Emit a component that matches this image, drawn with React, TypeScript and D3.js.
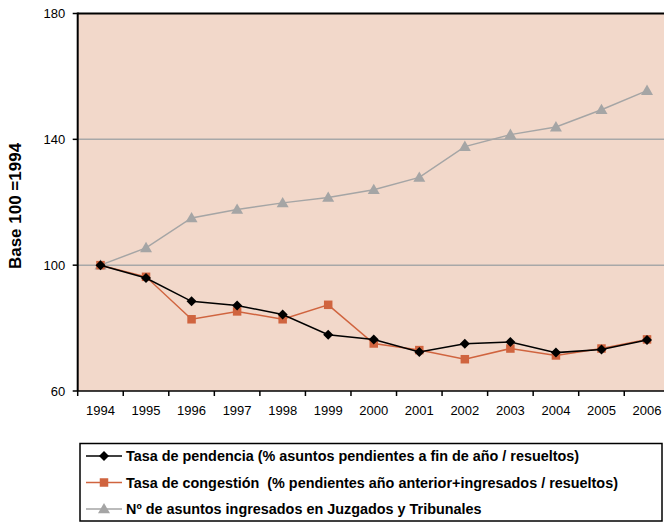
import React from "react";
import * as d3 from "d3";

const years = ["1994","1995","1996","1997","1998","1999","2000","2001","2002","2003","2004","2005","2006"];
const pendencia = [100, 95.9, 88.5, 87.2, 84.3, 77.9, 76.4, 72.4, 75.0, 75.6, 72.2, 73.2, 76.2];
const congestion = [100, 96.3, 82.8, 85.3, 82.8, 87.4, 75.1, 73.0, 70.1, 73.5, 71.3, 73.5, 76.4];
const ingresados = [100, 105.5, 115.0, 117.7, 119.8, 121.5, 124.0, 127.9, 137.7, 141.5, 143.9, 149.4, 155.5];
const yTicks = [60, 100, 140, 180];
const legendLabels = [
  "Tasa de pendencia (% asuntos pendientes a fin de año / resueltos)",
  "Tasa de congestión  (% pendientes año anterior+ingresados / resueltos)",
  "Nº de asuntos ingresados en Juzgados y Tribunales",
];

const W = 664, H = 522;
const plot = { left: 77.7, right: 669.8, top: 13.5, bottom: 391 };
const FONT = "'Liberation Sans', Arial, sans-serif";

const BLACK = "#000000";
const ORANGE = "#D0643F";
const GRAY = "#A5A5A5";

function Marker({ kind, x, y, color }: { kind: string; x: number; y: number; color: string }) {
  if (kind === "diamond") {
    const r = 5;
    return <path d={`M${x},${y - r}L${x + r},${y}L${x},${y + r}L${x - r},${y}Z`} fill={color} />;
  }
  if (kind === "square") {
    const s = 8.5;
    return <rect x={x - s / 2} y={y - s / 2} width={s} height={s} fill={color} />;
  }
  const r = 6;
  return <path d={`M${x},${y - r}L${x + r},${y + r * 0.72}L${x - r},${y + r * 0.72}Z`} fill={color} />;
}

export default function App() {
  const x = d3.scaleBand<string>().domain(years).range([plot.left, plot.right]);
  const y = d3.scaleLinear().domain([60, 180]).range([plot.bottom, plot.top]);
  const cx = (yr: string) => (x(yr) as number) + x.bandwidth() / 2;
  const line = d3.line<number>().x((_, i) => cx(years[i])).y((d) => y(d));

  const series = [
    { data: ingresados, color: GRAY, kind: "triangle", width: 1.5 },
    { data: congestion, color: ORANGE, kind: "square", width: 1.5 },
    { data: pendencia, color: BLACK, kind: "diamond", width: 1.5 },
  ];
  const legendSeries = [
    { color: BLACK, kind: "diamond" },
    { color: ORANGE, kind: "square" },
    { color: GRAY, kind: "triangle" },
  ];
  const boundaries = years.map((yr) => x(yr) as number).concat([plot.right]);

  return (
    <div style={{ position: "fixed", left: 0, top: 0, width: W, height: H, overflow: "hidden", background: "#fff" }}>
      <svg width={W} height={H} style={{ display: "block" }} fontFamily={FONT}>
        <rect x={plot.left} y={plot.top} width={plot.right - plot.left} height={plot.bottom - plot.top} fill="#F2D8CA" />
        {yTicks.filter((t) => t !== 60 && t !== 180).map((t) => (
          <line key={t} x1={plot.left} x2={plot.right} y1={y(t)} y2={y(t)} stroke="#A8A8A8" strokeWidth={1.5} />
        ))}
        <line x1={plot.left} x2={plot.right} y1={y(180)} y2={y(180)} stroke="#000" strokeWidth={2} />
        <line x1={plot.left} x2={plot.right} y1={plot.bottom} y2={plot.bottom} stroke="#000" strokeWidth={1.5} />
        <line x1={plot.left} x2={plot.left} y1={plot.top - 1} y2={plot.bottom} stroke="#000" strokeWidth={2} />
        {yTicks.map((t) => (
          <g key={t}>
            <line x1={plot.left - 5} x2={plot.left} y1={y(t)} y2={y(t)} stroke="#000" strokeWidth={1.5} />
            <text x={plot.left - 12.5} y={y(t)} dy="0.35em" textAnchor="end" fontSize={13} fill="#000">{t}</text>
          </g>
        ))}
        {boundaries.map((b, i) => (
          <line key={i} x1={b} x2={b} y1={plot.bottom} y2={plot.bottom + 5} stroke="#000" strokeWidth={1.5} />
        ))}
        {years.map((yr) => (
          <text key={yr} x={cx(yr)} y={plot.bottom + 19} dy="0.35em" textAnchor="middle" fontSize={13} fill="#000">{yr}</text>
        ))}
        <text transform={`translate(15,206) rotate(-90)`} textAnchor="middle" dy="0.35em" fontSize={17} fontWeight="bold" fill="#000">Base 100 =1994</text>
        {series.map((s, si) => (
          <g key={si}>
            <path d={line(s.data) as string} fill="none" stroke={s.color} strokeWidth={s.width} />
            {s.data.map((v, i) => (
              <Marker key={i} kind={s.kind} x={cx(years[i])} y={y(v)} color={s.color} />
            ))}
          </g>
        ))}
        <rect x={80} y={443.5} width={582} height={77.5} fill="#fff" stroke="#000" strokeWidth={1.5} />
        {legendLabels.map((lab, i) => {
          const ly = 456 + i * 26.5;
          const ls = legendSeries[i];
          return (
            <g key={i}>
              <line x1={86} x2={122} y1={ly} y2={ly} stroke={ls.color} strokeWidth={1.5} />
              <Marker kind={ls.kind} x={104} y={ly} color={ls.color} />
              <text x={126} y={ly} dy="0.35em" fontSize={14.4} fontWeight="bold" fill="#000" style={{ whiteSpace: "pre" }}>{lab}</text>
            </g>
          );
        })}
      </svg>
    </div>
  );
}
